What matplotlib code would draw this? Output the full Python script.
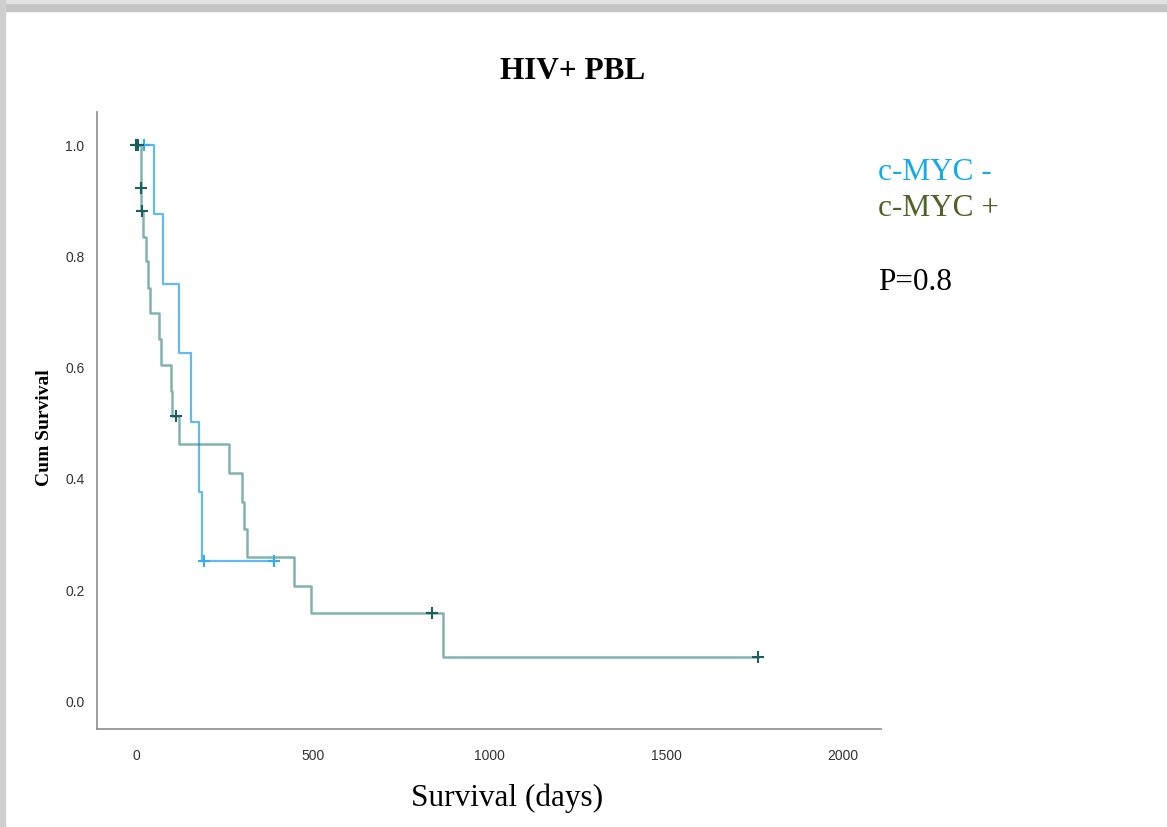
import numpy as np
import matplotlib.pyplot as plt
from matplotlib.patches import Rectangle

# Kaplan-Meier steps (time in days, cumulative survival)
neg_t = [0, 51, 77, 122, 155, 178, 187, 392]
neg_s = [1.0, 0.875, 0.75, 0.625, 0.5, 0.375, 0.25, 0.25]
neg_cens_t = [23, 192, 390]
neg_cens_s = [1.0, 0.25, 0.25]

pos_t = [0, 14, 15, 20, 28, 34, 41, 66, 71, 99, 102, 122, 263, 300, 305, 314,
         447, 495, 868, 1760]
pos_s = [1.0, 0.922, 0.88, 0.834, 0.79, 0.742, 0.697, 0.65, 0.604, 0.557,
         0.512, 0.461, 0.409, 0.357, 0.308, 0.258, 0.205, 0.157, 0.078, 0.078]
pos_cens_t = [0, 5, 14, 16, 113, 836, 1760]
pos_cens_s = [1.0, 1.0, 0.922, 0.88, 0.512, 0.157, 0.078]

x_ticks = [0, 500, 1000, 1500, 2000]
y_ticks = [0.0, 0.2, 0.4, 0.6, 0.8, 1.0]

BLUE = "#3aa9ee"
TEAL = "#2f7f7b"
TEAL_DARK = "#1c5e5b"

fig = plt.figure(figsize=(11.67, 8.28), dpi=100)
fig.patch.set_facecolor("white")

# screenshot frame (grey band at top, thin grey strip on the left)
fig.add_artist(Rectangle((0, 1 - 12 / 828), 1, 12 / 828, transform=fig.transFigure,
                         color="#c4c4c4", zorder=0))
fig.add_artist(Rectangle((0, 1 - 4 / 828), 1, 4 / 828, transform=fig.transFigure,
                         color="#e2e2e2", zorder=0))
fig.add_artist(Rectangle((0, 0), 5 / 1167, 1, transform=fig.transFigure,
                         color="#cfcfcf", zorder=0))

ax = fig.add_axes([97 / 1167, 1 - 730 / 828, 784 / 1167, 617 / 828])

ax.step(neg_t, neg_s, where="post", color=BLUE, lw=1.6, alpha=0.8, zorder=3)
ax.plot(neg_cens_t, neg_cens_s, "+", color=BLUE, ms=9, mew=1.5, zorder=4)

ax.step(pos_t, pos_s, where="post", color=TEAL, lw=1.8, alpha=0.6, zorder=3)
ax.plot(pos_cens_t, pos_cens_s, "+", color=TEAL_DARK, ms=9, mew=1.5, zorder=4)

ax.set_xlim(-110, 2107)
ax.set_ylim(-0.052, 1.059)
ax.set_xticks(x_ticks)
ax.set_yticks(y_ticks)
ax.set_xticklabels([str(v) for v in x_ticks])
ax.set_yticklabels([f"{v:.1f}" for v in y_ticks])
ax.tick_params(length=0, labelsize=10, colors="#333333")
ax.tick_params(axis="x", pad=14)
ax.tick_params(axis="y", pad=9)
for lab in ax.get_xticklabels() + ax.get_yticklabels():
    lab.set_family(["Liberation Sans Narrow", "Liberation Sans", "DejaVu Sans"])

for side in ["top", "right"]:
    ax.spines[side].set_visible(False)
for side in ["left", "bottom"]:
    ax.spines[side].set_color("#8c8c8c")
    ax.spines[side].set_linewidth(1.2)

ax.set_xlabel("Survival (days)", family="Liberation Serif", fontsize=22.5)
ax.xaxis.set_label_coords(0.523, -0.086)
ax.set_ylabel("Cum Survival", family="Liberation Serif", fontsize=14,
              fontweight="bold")
ax.yaxis.set_label_coords(-0.056, 0.49)

fig.text(573 / 1167, 1 - 72 / 828, "HIV+ PBL", family="Liberation Serif",
         fontsize=22.5, fontweight="bold", ha="center", va="center")

fig.text(878 / 1167, 1 - 172 / 828, "c-MYC -", family="Liberation Serif",
         fontsize=22.5, color="#14abe6", va="center")
fig.text(878 / 1167, 1 - 209 / 828, "c-MYC +", family="Liberation Serif",
         fontsize=22.5, color="#4f6228", va="center")
fig.text(878 / 1167, 1 - 283 / 828, "P=0.8", family="Liberation Serif",
         fontsize=22.5, color="black", va="center")

fig.savefig("out.png", dpi=100)
